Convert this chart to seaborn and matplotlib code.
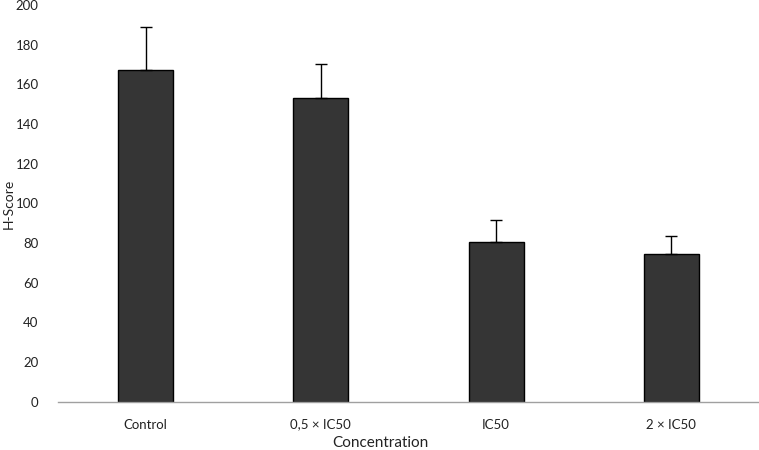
import numpy as np
import pandas as pd
import matplotlib
matplotlib.use("Agg")
import matplotlib.pyplot as plt
import seaborn as sns

categories = ["Control", "0,5 × IC50", "IC50", "2 × IC50"]
h_score = [167, 153, 80.5, 74.5]
sd = [22, 17, 11, 9]

sns.set_style("white")
plt.rcParams['font.family'] = ['Lato', 'DejaVu Sans']

df = pd.DataFrame({"Concentration": categories, "H-Score": h_score})

fig = plt.figure(figsize=(7.59, 4.5), dpi=100)
ax = fig.add_axes([0.0764, 0.107, 0.9236, 0.882])

sns.barplot(data=df, x="Concentration", y="H-Score", color="#353535",
            width=0.314, edgecolor="black", linewidth=1, saturation=1, ax=ax)

# 只画上方误差线
x = np.arange(len(categories))
ax.errorbar(x, h_score, yerr=[np.zeros(len(sd)), sd], fmt="none",
            ecolor="black", elinewidth=1, capsize=4, capthick=1)

ax.set_xlim(-0.5, 3.5)
ax.set_ylim(0, 200)
ax.set_yticks(range(0, 201, 20))
ax.tick_params(axis="both", length=0, labelsize=9.5, colors="#222222")
ax.tick_params(axis="x", pad=12)
ax.tick_params(axis="y", pad=14)

for s in ["left", "top", "right"]:
    ax.spines[s].set_visible(False)
ax.spines["bottom"].set_color("#a0a0a0")
ax.spines["bottom"].set_linewidth(1)

ax.set_xlabel("Concentration", fontsize=11, color="#222222")
ax.set_ylabel("H-Score", fontsize=10, color="#222222")
ax.xaxis.set_label_coords(0.46, -0.086)
ax.yaxis.set_label_coords(-0.0615, 0.5)

fig.savefig("out.png", dpi=100)
